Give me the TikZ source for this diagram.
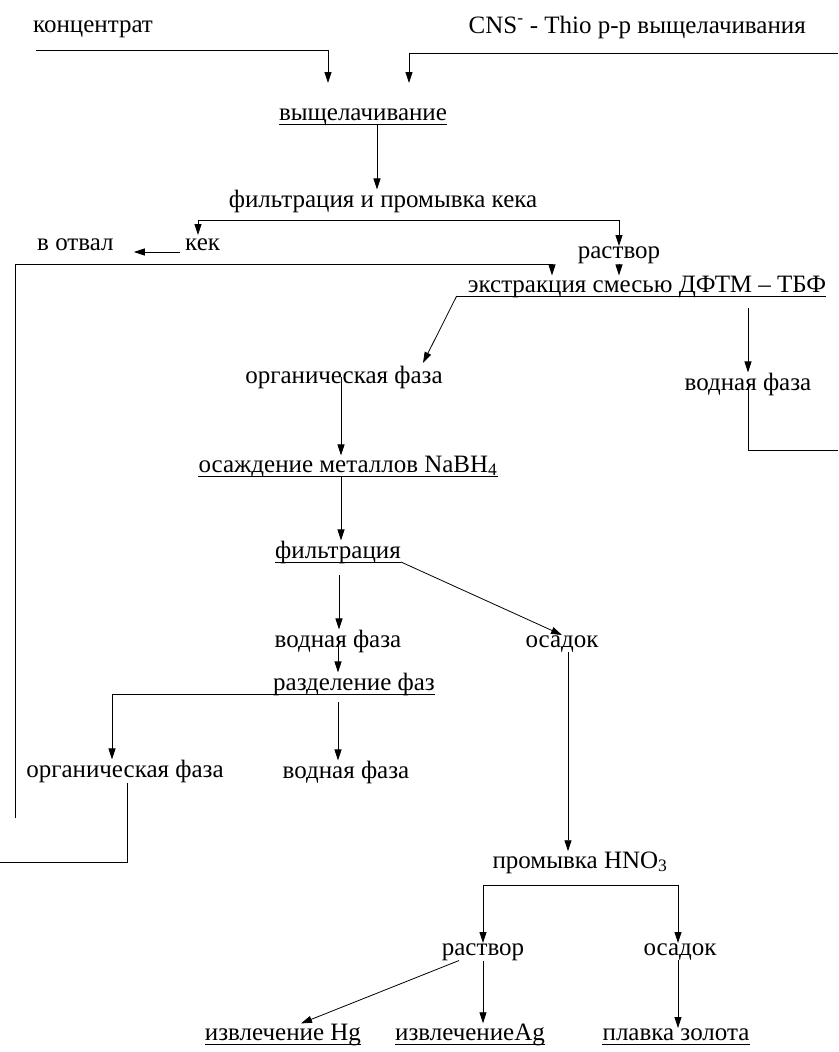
\documentclass[tikz,border=0pt]{standalone}
\usepackage{fontspec}
\setmainfont{Liberation Serif}
\usetikzlibrary{arrows.meta,calc}
\begin{document}
\begin{tikzpicture}[x=1pt,y=-1pt,
  lbl/.style={inner sep=0pt, anchor=base, font=\fontsize{25}{30}\selectfont},
  ln/.style={line width=0.8pt},
  arr/.style={ln,-{Triangle[length=11pt,width=7pt]}}]
\useasboundingbox[fill=white] (0,0) rectangle (838,1052);
\newcommand\myul[1]{\draw[ln] ([yshift=-4pt]#1.base west) coordinate (#1w) -- ([yshift=-4pt]#1.base east) coordinate (#1e);}
% nodes
\node[lbl, anchor=base west] (conc) at (33,32) {концентрат};
\node[lbl, anchor=base east] (cns) at (806,33) {CNS\textsuperscript{-} - Thio р-р выщелачивания};
\node[lbl] (leach) at (363,120) {выщелачивание};
\node[lbl] (filt1) at (383,207) {фильтрация и промывка кека};
\node[lbl, anchor=base west] (dump) at (37,250) {в отвал};
\node[lbl, anchor=base west] (cake) at (185,250) {кек};
\node[lbl] (sol1) at (619,258) {раствор};
\node[lbl] (extr) at (647,292) {экстракция смесью ДФТМ – ТБФ};
\node[lbl] (org1) at (344,383) {органическая фаза};
\node[lbl] (aq1) at (748,390) {водная фаза};
\node[lbl] (prec) at (348,472) {осаждение металлов NaBH\textsubscript{4}};
\node[lbl] (filt2) at (338,558) {фильтрация};
\node[lbl] (aq2) at (338,647) {водная фаза};
\node[lbl] (sed1) at (562,647) {осадок};
\node[lbl] (sep) at (354,690) {разделение фаз};
\node[lbl] (org2) at (125,777) {органическая фаза};
\node[lbl] (aq3) at (346,778) {водная фаза};
\node[lbl] (wash) at (580,868) {промывка HNO\textsubscript{3}};
\node[lbl] (sol2) at (483,955) {раствор};
\node[lbl] (sed2) at (680,955) {осадок};
\node[lbl] (hg) at (283,1040) {извлечение Hg};
\node[lbl] (ag) at (470,1040) {извлечениеAg};
\node[lbl] (au) at (676,1040) {плавка золота};
% underlines
\myul{leach}\myul{prec}\myul{filt2}\myul{sep}\myul{hg}\myul{ag}\myul{au}
\draw[ln] ([yshift=-4pt]extr.base west) ++(-11,0) coordinate (extrw) -- ([yshift=-4pt]extr.base east);
% connectors
\draw[arr] ($(conc.base west)+(3,18)$) -- (328,50) -- (328,83);
\draw[arr] (838,53) -- (409,53) -- (409,83);
\draw[arr] (377,124) -- (filt1.north -| 377,0);
\draw[arr] (198,220) -- (198,235);
\draw[ln] (198,220) -- (619,220);
\draw[arr] (619,220) -- (sol1.north -| 619,0);
\draw[arr, shorten <=5pt, shorten >=20pt] (cake.west |- 0,252) -- (dump.east |- 0,252);
\draw[arr] (sol1.south -| 619,0) -- (extr.north -| 619,0);
\draw[arr] (15,818) -- (15,264) -- (552,264) -- (extr.north -| 552,0);
\draw[arr] (extrw) -- (423,363);
\draw[arr] (748,308) -- (aq1.north -| 748,0);
\draw[ln] (aq1.center) -- (748,450) -- (838,450);
\draw[arr] (org1.center -| 341,0) -- (prec.north -| 341,0);
\draw[arr] (341,477) -- (filt2.north -| 341,0);
\draw[arr] (339,575) -- (aq2.north -| 339,0);
\draw[arr] (filt2e) -- (sed1.north);
\draw[arr] (338,637) -- (sep.north -| 338,0);
\draw[ln] (sepw) -- (112,694);
\draw[arr] (112,694) -- (org2.north -| 112,0);
\draw[arr] (338,702) -- (aq3.north -| 338,0);
\draw[ln] (org2.south -| 127,0) -- (127,862) -- (0,862);
\draw[arr] (sed1.south -| 568,0) -- (wash.north -| 568,0);
\draw[ln] (483,885) -- (678,885);
\draw[arr] (483,885) -- (sol2.north -| 483,0);
\draw[arr] (678,885) -- (sed2.north -| 678,0);
\draw[arr] (sol2.south -| 459,0) -- (hg.north -| 301,0);
\draw[arr] (sol2.south -| 483,0) -- (ag.north -| 483,0);
\draw[arr] (sed2.south -| 678,0) -- (au.north -| 678,0);
\end{tikzpicture}
\end{document}
